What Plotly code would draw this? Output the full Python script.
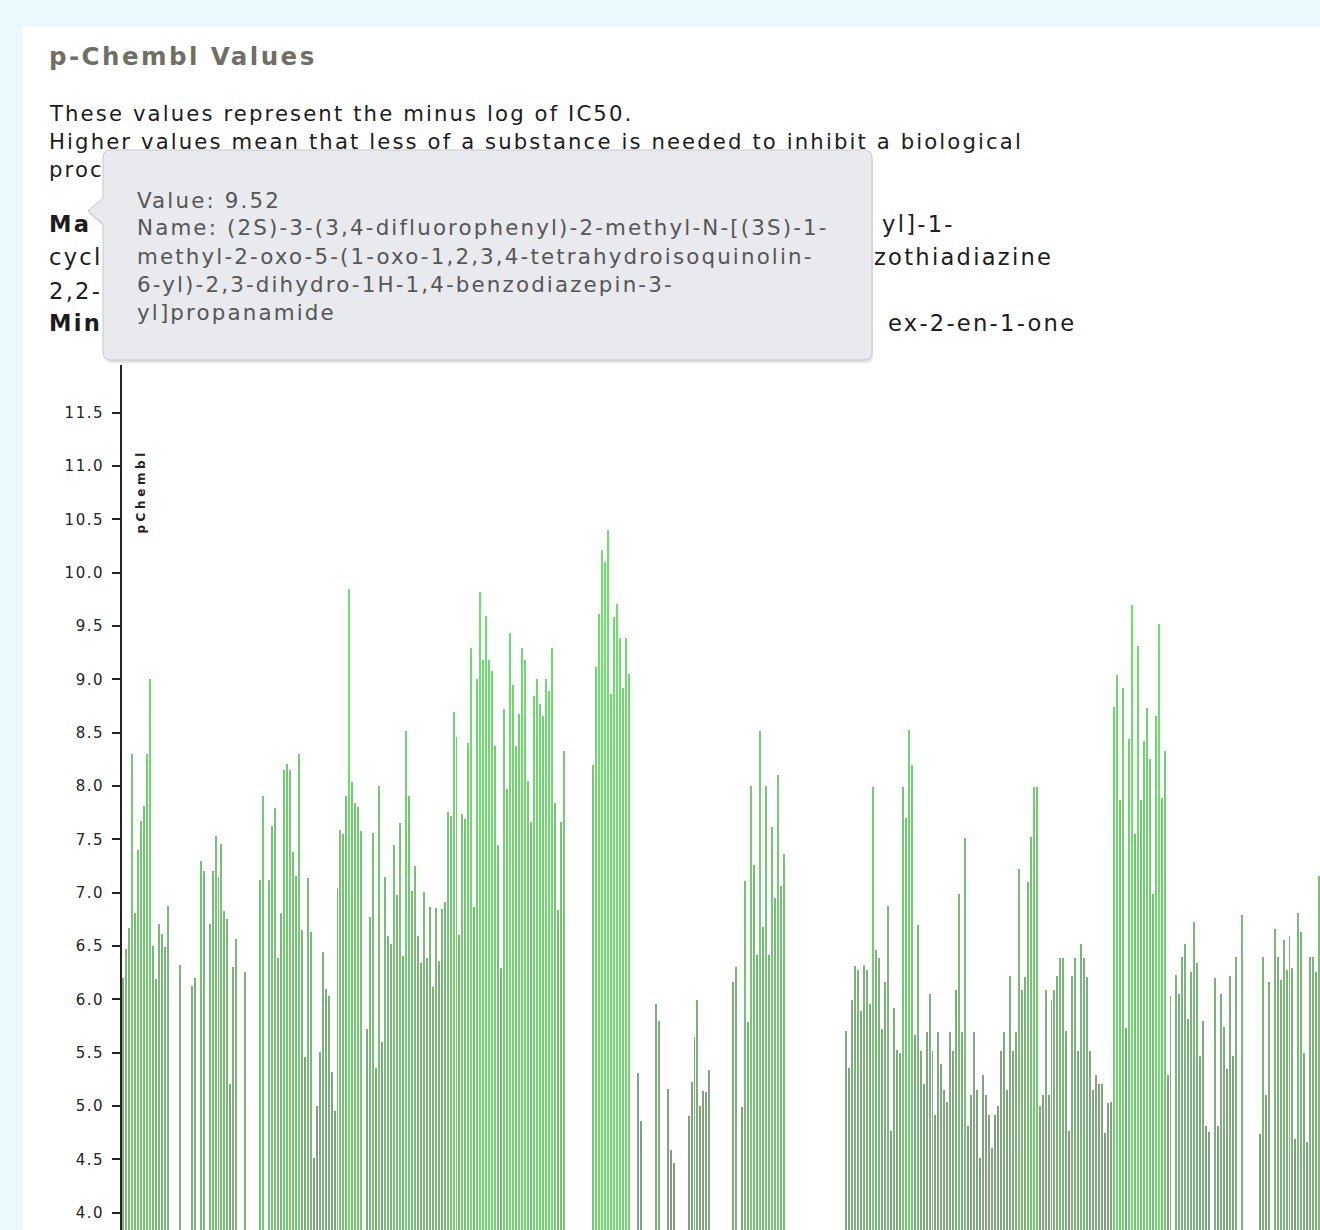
import plotly.graph_objects as go

W, H = 1320, 1230

# ---------------- data ----------------
# pChEMBL value per compound slot (None = bar below the visible part of the axis)
pchembl = [
    6.20, 6.47, 6.67, 8.30, 6.81, 7.40, 7.67, 7.81, 8.30, 9.00,
    6.50, 6.19, 6.71, 6.61, 6.49, 6.88, None, None, None, 6.32,
    None, None, None, 6.13, 6.20, None, 7.30, 7.20, None, 6.71,
    7.20, 7.53, 7.15, 7.46, 6.83, 6.75, 5.21, 6.30, 6.57, None,
    None, 6.26, None, None, None, None, 7.12, 7.91, None, 7.12,
    7.63, 7.79, 6.39, 6.81, 8.15, 8.21, 8.15, 7.38, 7.16, 8.30,
    6.65, 5.46, 7.14, 6.63, 4.51, 5.00, 5.51, 6.44, 6.10, 6.03,
    5.32, 4.95, 7.04, 7.59, 7.55, 7.91, 9.85, 8.04, 7.84, 7.80,
    7.58, None, 5.72, 6.77, 7.56, 5.36, 8.00, 5.60, 7.15, 6.59,
    6.52, 7.45, 6.98, 7.65, 6.41, 8.52, 7.91, 7.02, 7.25, 6.59,
    6.34, 7.01, 6.39, 6.87, 6.12, 6.86, 6.36, 6.85, 6.91, 7.76,
    7.72, 8.69, 8.46, 6.60, 7.74, 7.69, 8.40, 9.29, 6.87, 9.00,
    9.82, 9.18, 9.59, 9.18, 9.08, 8.38, 7.45, 6.29, 8.72, 7.97,
    9.43, 8.95, 8.38, 8.68, 9.29, 9.18, 8.05, 7.66, 8.84, 9.00,
    8.77, 8.66, 9.00, 8.89, 9.29, 7.84, 6.84, 7.66, 8.33, None,
    None, None, None, None, None, None, None, None, 8.20, 9.12,
    9.61, 10.21, 10.10, 10.40, 8.86, 9.58, 9.71, 9.39, 8.92, 9.39,
    9.05, None, None, 5.31, 4.86, None, None, None, None, 5.96,
    5.80, None, None, 5.16, 4.59, 4.47, None, None, None, None,
    4.91, 5.23, 5.65, 5.99, 5.00, 5.14, 5.13, 5.34, None, None,
    None, None, None, None, None, 6.16, 6.30, None, 4.99, 7.11,
    5.79, 8.00, 7.26, 6.42, 8.52, 6.68, 8.00, 6.42, 7.62, 6.95,
    8.10, 7.06, 7.36, None, None, None, None, None, None, None,
    None, None, None, None, None, None, None, None, None, None,
    None, None, None, 5.70, 5.36, 5.99, 6.31, 6.28, 5.89, 6.32,
    6.28, 5.96, 7.99, 6.46, 6.39, 5.72, 6.16, 6.88, 4.77, 5.92,
    5.53, 5.50, 7.99, 7.70, 8.53, 8.20, 5.67, 6.70, 5.52, 5.21,
    5.69, 6.05, 5.52, 4.92, 5.69, 5.39, 5.15, 5.04, 5.69, 5.52,
    6.09, 6.99, 5.69, 7.51, 4.81, 5.10, 5.69, 5.15, 4.51, 5.29,
    5.10, 4.92, 4.61, 4.92, 5.00, 5.52, 5.69, 5.15, 6.22, 5.52,
    5.69, 7.22, 6.09, 6.21, 7.10, 7.52, 7.99, 7.99, 5.00, 5.10,
    6.09, 5.10, 5.99, 6.09, 6.22, 6.39, 6.39, 5.70, 4.77, 6.22,
    6.39, 5.52, 6.52, 6.39, 6.21, 5.52, 5.15, 5.29, 5.21, 5.21,
    4.75, 5.03, 5.04, 8.74, 9.04, 7.87, 8.92, 5.73, 8.44, 9.70,
    7.55, 9.31, 7.87, 8.42, 8.73, 8.25, 6.99, 8.66, 9.52, 7.89,
    8.33, 5.29, 6.03, None, 6.23, 6.05, 6.40, 6.52, 5.82, 6.26,
    6.73, 6.34, 5.47, 5.80, 4.81, 4.76, None, 6.20, 4.81, 6.05,
    5.74, 5.35, 6.22, 5.47, 6.40, None, 6.79, None, None, None,
    None, None, 4.74, 6.40, 5.10, 6.16, None, 6.66, 6.40, 6.18,
    6.56, 6.28, 6.59, 6.29, 4.69, 6.81, 6.63, 5.50, 4.66, 6.40,
    6.40, 6.26, 7.16,
]
compound_slot = list(range(len(pchembl)))

y_tick_values = [4.0, 4.5, 5.0, 5.5, 6.0, 6.5, 7.0, 7.5, 8.0, 8.5, 9.0, 9.5, 10.0, 10.5, 11.0, 11.5]
y_tick_labels = ["4.0", "4.5", "5.0", "5.5", "6.0", "6.5", "7.0", "7.5", "8.0", "8.5", "9.0", "9.5", "10.0", "10.5", "11.0", "11.5"]

title_text = "p-Chembl Values"
intro_lines = [
    "These values represent the minus log of IC50.",
    "Higher values mean that less of a substance is needed to inhibit a biological",
]
hover_value = 9.52
hover_name_lines = [
    "(2S)-3-(3,4-difluorophenyl)-2-methyl-N-[(3S)-1-",
    "methyl-2-oxo-5-(1-oxo-1,2,3,4-tetrahydroisoquinolin-",
    "6-yl)-2,3-dihydro-1H-1,4-benzodiazepin-3-",
    "yl]propanamide",
]

# ---------------- styling helpers ----------------
FONT = "DejaVu Sans"


def px(x):
    return x / W


def py(y):
    return 1 - y / H


def bar_color(v):
    if v is None:
        return "rgba(0,0,0,0)"
    lo, hi = 4.4, 9.8
    t = min(max((v - lo) / (hi - lo), 0.0), 1.0)
    c0 = (130, 152, 130)
    c1 = (104, 226, 104)
    r, g, b = [round(a + (b_ - a) * t) for a, b_ in zip(c0, c1)]
    # alpha just below 1 makes plotly snap bar edges to whole pixels
    return f"rgba({r},{g},{b},0.99)"


colors = [bar_color(v) for v in pchembl]

fig = go.Figure(
    go.Bar(
        x=compound_slot,
        y=pchembl,
        width=0.66,
        marker=dict(color=colors, line=dict(width=0)),
        hoverinfo="skip",
        showlegend=False,
    )
)

# plot frame in pixel terms
plot_left, plot_top = 122, 365
slot_px = 2.975
first_center = 123.3
x_start = -(first_center - plot_left) / slot_px
x_end = x_start + (W - plot_left) / slot_px

fig.update_layout(
    width=W,
    height=H,
    margin=dict(l=0, r=0, t=0, b=0),
    paper_bgcolor="#e9f9fd",
    plot_bgcolor="white",
    bargap=0,
    font=dict(family=FONT),
    xaxis=dict(domain=[px(plot_left), 1], range=[x_start, x_end], visible=False, fixedrange=True),
    yaxis=dict(
        domain=[0, py(plot_top)],
        range=[3.838, 11.947],
        showline=True,
        linecolor="#222",
        linewidth=2,
        ticks="outside",
        ticklen=8,
        tickwidth=1.5,
        tickcolor="#222",
        tickvals=y_tick_values,
        ticktext=y_tick_labels,
        tickfont=dict(family=FONT, size=15, color="#222"),
        ticklabelstandoff=5,
        showgrid=False,
        zeroline=False,
        fixedrange=True,
    ),
)

# white content panel
fig.add_shape(type="rect", xref="paper", yref="paper", x0=px(22), x1=1.05, y0=-0.05, y1=py(27),
              fillcolor="white", line=dict(width=0), layer="below")


# tooltip box with rounded corners and pointer
def tooltip_path(dx=0.0, dy=0.0):
    x0, x1, y0, y1, r = 103 + dx, 872 + dx, 150 + dy, 360 + dy, 8
    pts = []

    def P(x, y):
        return f"{px(x):.5f},{py(y):.5f}"

    pts.append(f"M{P(x0 + r, y0)}")
    pts.append(f"L{P(x1 - r, y0)}")
    pts.append(f"Q{P(x1, y0)} {P(x1, y0 + r)}")
    pts.append(f"L{P(x1, y1 - r)}")
    pts.append(f"Q{P(x1, y1)} {P(x1 - r, y1)}")
    pts.append(f"L{P(x0 + r, y1)}")
    pts.append(f"Q{P(x0, y1)} {P(x0, y1 - r)}")
    pts.append(f"L{P(x0, 224 + dy)}")
    pts.append(f"L{P(88 + dx, 211 + dy)}")
    pts.append(f"L{P(x0, 198 + dy)}")
    pts.append(f"L{P(x0, y0 + r)}")
    pts.append(f"Q{P(x0, y0)} {P(x0 + r, y0)}")
    pts.append("Z")
    return " ".join(pts)


fig.add_shape(type="path", xref="paper", yref="paper", path=tooltip_path(1, 3),
              fillcolor="rgba(0,0,0,0.10)", line=dict(width=0), layer="above")
fig.add_shape(type="path", xref="paper", yref="paper", path=tooltip_path(),
              fillcolor="#e9eaed", line=dict(color="#c6c7cb", width=1), layer="above")


def text_at(x, y, text, size=21.2, color="#1c1c1c"):
    # annotation boxes add ~3px padding, compensate so text starts at x
    fig.add_annotation(xref="paper", yref="paper", x=px(x - 3), y=py(y), text=text,
                       showarrow=False, xanchor="left", yanchor="middle", align="left",
                       font=dict(family=FONT, size=size, color=color))


text_at(50, 56, f"<b>{title_text}</b>", size=24.5, color="#6f6f66")
text_at(50, 113, intro_lines[0])
text_at(50, 141, intro_lines[1])
text_at(50, 169, "proc")
MM = 22.6
text_at(50, 224, "<b>Ma</b>", size=MM)
text_at(50, 257, "cycl", size=MM)
text_at(50, 291, "2,2-", size=MM)
text_at(50, 323, "<b>Min</b>", size=MM)
text_at(883, 224, "yl]-1-", size=MM)
text_at(875, 257, "zothiadiazine", size=MM)
text_at(889, 323, "ex-2-en-1-one", size=MM)

tooltip_lines = [f"Value: {hover_value:.2f}", "Name: " + hover_name_lines[0]] + hover_name_lines[1:]
for k, line in enumerate(tooltip_lines):
    text_at(138, 200 + 28 * k, line, size=21.4, color="#565656")

# y axis title
fig.add_annotation(xref="paper", yref="paper", x=px(141), y=py(492), text="<b>pChembl</b>",
                   showarrow=False, textangle=-90, xanchor="center", yanchor="middle",
                   font=dict(family=FONT, size=12, color="#222"))

page_js = """
document.documentElement.style.margin = '0';
document.body.style.margin = '0';
document.body.style.background = '#e9f9fd';
var gd = document.getElementById('{plot_id}');
gd.querySelectorAll('text').forEach(function(t){
  var fs = parseFloat(window.getComputedStyle(t).fontSize) || 12;
  var ls = 0.1 * fs;
  if (t.textContent === 'pChembl') { ls = 3.6; }
  t.style.letterSpacing = ls + 'px';
});
"""

fig.write_html("out.html", post_script=page_js, config={"displayModeBar": False})
